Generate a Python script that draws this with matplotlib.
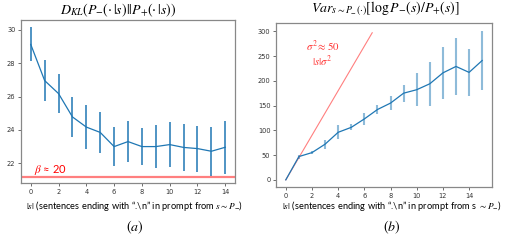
import numpy as np
import matplotlib
matplotlib.use("Agg")
import matplotlib.pyplot as plt

plt.rcParams['mathtext.fontset'] = 'stix'

# (a) KL divergence vs |s|
kl_x = list(range(15))
kl_mean = [29.13, 26.96, 26.18, 24.78, 24.17, 23.85, 23.0, 23.3, 23.0, 23.0,
           23.12, 22.95, 22.88, 22.72, 22.96]
kl_err = [1.02, 1.23, 1.17, 1.18, 1.3, 1.23, 1.17, 1.23, 1.1, 1.28,
          1.35, 1.4, 1.38, 1.46, 1.6]
beta_level = 21.2

# (b) variance vs |s|
var_x = list(range(16))
var_mean = [0, 47, 55, 72, 96, 106, 123, 142, 155, 175, 182, 194, 216, 229, 217, 241]
var_err = [0, 4, 3, 9, 14, 6, 12, 9, 14, 17, 33, 44, 52, 57, 47, 60]
ref_x = [0, 6.6]
ref_y = [0, 297]

blue = '#1f77b4'
spine_c = '#888888'

fig = plt.figure(figsize=(5.09, 2.4), dpi=100)
ax1 = fig.add_axes([0.0413, 0.2375, 0.4204, 0.6792])
ax2 = fig.add_axes([0.5422, 0.2196, 0.4244, 0.6832])

ax1.errorbar(kl_x, kl_mean, yerr=kl_err, color=blue, lw=0.9, elinewidth=1.1)
ax1.axhline(beta_level, color='red', alpha=0.5, lw=1.6)
ax1.text(0.25, 21.6, r'$\beta$ ≈ 20', color='red', fontsize=8, family='Lato',
         va='center')
ax1.set_xticks(range(0, 15, 2))
ax1.set_yticks(range(22, 31, 2))

ax2.errorbar(var_x, var_mean, yerr=var_err, color=blue, lw=0.9, elinewidth=1.5,
             ecolor=(0.12, 0.47, 0.71, 0.5))
ax2.plot(ref_x, ref_y, color='red', alpha=0.5, lw=0.8)
ax2.text(2.8, 270, r'$\sigma^2\approx 50$', color='red', fontsize=7.8,
         ha='center', va='center', alpha=0.8)
ax2.text(2.8, 240, r'$|s|\sigma^2$', color='red', fontsize=7.8,
         ha='center', va='center', alpha=0.8)
ax2.set_xticks(range(0, 15, 2))
ax2.set_yticks(range(0, 301, 50))

for ax in (ax1, ax2):
    ax.tick_params(labelsize=4.8, length=2.5, width=0.5, colors='#333333',
                   pad=1.5)
    for s in ax.spines.values():
        s.set_color(spine_c)
        s.set_linewidth(0.9)

fig.text(0.232, 0.958, r'$D_{KL}(P_{-}(\cdot\,|s)||P_{+}(\cdot\,|s))$',
         ha='center', va='center', fontsize=10)
fig.text(0.758, 0.965, r'$Var_{s\sim P_{-}(\cdot)}[\log P_{-}(s)/P_{+}(s)]$',
         ha='center', va='center', fontsize=10)

fig.text(0.265, 0.143, r'$|s|$ (sentences ending with “.\n” in prompt from $s\sim P_{-}$)',
         ha='center', va='center', fontsize=6.7, family='Lato')
fig.text(0.77, 0.143, r'$|s|$ (sentences ending with “.\n” in prompt from s $\sim P_{-}$)',
         ha='center', va='center', fontsize=6.7, family='Lato')

fig.text(0.265, 0.054, r'$(a)$', ha='center', va='center', fontsize=10)
fig.text(0.77, 0.054, r'$(b)$', ha='center', va='center', fontsize=10)

fig.savefig('out.png', dpi=100)
